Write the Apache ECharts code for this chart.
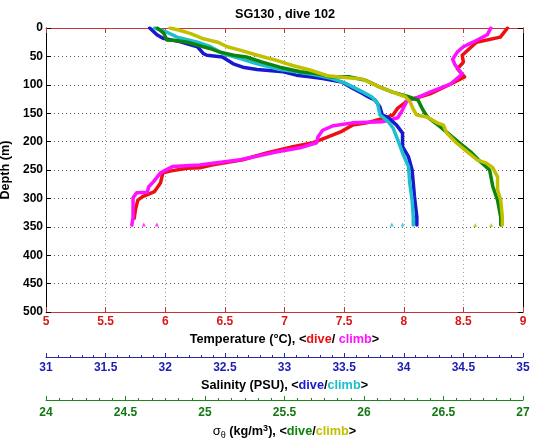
<!DOCTYPE html>
<html><head><meta charset="utf-8">
<script src="https://cdn.jsdelivr.net/npm/echarts@6/dist/echarts.min.js"></script>
<style>html,body{margin:0;padding:0;background:#fff}#c{width:535px;height:442px}</style>
</head><body><div id="c"></div>
<script>
// ---- data (depth in m, values on each x scale) ----
const tempDiveDepth = [0,16,25,48,60,72,86,99,116,121,127,141,153,157,167,171,183,192,202,209,220,232,241,246,247,252,255,273,288,297,303,320,335];
const tempDive      = [8.87,8.81,8.61,8.49,8.50,8.45,8.51,8.39,8.22,8.14,8.04,7.95,7.91,7.86,7.69,7.57,7.47,7.36,7.24,7.07,6.85,6.65,6.40,6.29,6.18,6.04,5.98,5.96,5.91,5.81,5.77,5.75,5.74];
const tempClimbDepth = [0,12,25,33,42,55,65,81,99,113,123,127,144,158,165,167,172,180,192,202,211,218,232,238,241,244,255,271,280,289,290,299,333,347];
const tempClimb      = [8.73,8.70,8.58,8.50,8.45,8.41,8.43,8.49,8.39,8.22,8.11,8.03,7.99,7.95,7.82,7.57,7.41,7.32,7.28,7.27,7.13,6.94,6.63,6.40,6.29,6.06,5.96,5.90,5.86,5.85,5.76,5.73,5.73,5.72];
const tempClimbStrayDepth = [346,346];
const tempClimbStray      = [5.82,5.93];

const salDiveDepth = [0,12,18,24,33,45,48,51,63,69,73,77,83,86,89,95,106,115,121,127,139,153,158,171,185,209,227,250,273,297,333,347];
const salDive      = [31.87,31.93,31.98,32.12,32.27,32.32,32.35,32.48,32.57,32.65,32.77,32.99,33.10,33.21,33.32,33.48,33.57,33.65,33.70,33.76,33.80,33.82,33.87,33.94,33.99,33.99,34.04,34.07,34.08,34.09,34.11,34.11];
const salClimbDepth = [0,7,16,25,33,45,54,63,72,77,83,89,97,112,121,132,153,165,176,197,220,244,273,303,333,347];
const salClimb      = [31.91,32.01,32.10,32.27,32.38,32.48,32.63,32.77,32.94,33.10,33.27,33.40,33.51,33.65,33.73,33.78,33.80,33.87,33.91,33.95,33.99,34.04,34.05,34.07,34.08,34.08];
const salClimbStrayDepth = [346,346];
const salClimbStray      = [33.90,33.99];

const sigDiveDepth = [0,9,21,22,25,30,36,42,48,51,60,69,77,80,86,86,92,104,113,121,127,144,157,174,188,202,218,235,250,279,303,333,347];
const sigDive      = [24.70,24.74,24.76,24.82,24.89,24.95,25.03,25.09,25.18,25.26,25.36,25.47,25.60,25.70,25.79,25.91,26.01,26.10,26.18,26.28,26.34,26.37,26.40,26.48,26.54,26.60,26.67,26.73,26.79,26.81,26.84,26.86,26.86];
const sigClimbDepth = [0,4,10,19,25,33,39,48,57,66,74,84,87,90,104,113,121,130,143,153,157,167,171,185,202,218,232,238,246,262,285,303,333,347];
const sigClimb      = [24.78,24.84,24.91,24.99,25.08,25.14,25.22,25.33,25.45,25.55,25.66,25.77,25.88,25.99,26.10,26.18,26.26,26.29,26.31,26.33,26.40,26.46,26.50,26.52,26.58,26.65,26.71,26.77,26.81,26.84,26.84,26.86,26.87,26.87];
const sigClimbStrayDepth = [347,347];
const sigClimbStray      = [26.70,26.80];

const depthTicks = [0,50,100,150,200,250,300,350,400,450,500];
const tempTicks = [5,5.5,6,6.5,7,7.5,8,8.5,9];
const salTicks = [31,31.5,32,32.5,33,33.5,34,34.5,35];
const sigTicks = [24,24.5,25,25.5,26,26.5,27];

const titleText = 'SG130 , dive 102';

// ---- chart ----
const FONT = '"Liberation Sans", Arial, Helvetica, sans-serif';
const C = {
  red:'#ee1010', mag:'#ff10ff', blue:'#1818d0', cyan:'#1cc0cc', green:'#0c840c', yel:'#c0c000',
  redAx:'#c83434', redLab:'#d81818', blueAx:'#2a2aa0', blueLab:'#1c1cb0', greenAx:'#1c861c', greenLab:'#127812'
};
const NS = 12.7;
const pairs = (v,d) => v.map((x,i)=>[x,d[i]]);
const lbl = (color, margin) => ({color, fontWeight:'bold', fontSize:12, fontFamily:FONT, margin});
const base = {fontWeight:'bold', fontSize:NS, fontFamily:FONT, color:'#000', lineHeight:16};

const chart = echarts.init(document.getElementById('c'), null, {renderer:'canvas'});
const line = (v,d,xi,color) => ({type:'line', xAxisIndex:xi, yAxisIndex:0, data:pairs(v,d), showSymbol:false,
  symbol:'none', lineStyle:{color, width:3.5, join:'round', cap:'round'}, silent:true, animation:false, z:3});
const stray = (v,d,xi,color) => ({type:'scatter', xAxisIndex:xi, yAxisIndex:0, data:pairs(v,d), symbol:'triangle',
  symbolSize:4, itemStyle:{color}, silent:true, animation:false, z:3});

chart.setOption({
  animation:false,
  backgroundColor:'#fff',
  grid:{left:46, right:12, top:28, bottom:130, containLabel:false, outerBoundsMode:'none'},
  graphic:[{type:'text', x:285, y:14, style:{text:titleText, align:'center', verticalAlign:'middle',
    fontSize:NS, fontWeight:'bold', fontFamily:FONT, fill:'#000'}}],
  xAxis:[
    {type:'value', position:'bottom', min:tempTicks[0], max:tempTicks[tempTicks.length-1], interval:0.5,
     axisLine:{onZero:false, lineStyle:{color:C.redAx, width:1}},
     axisTick:{inside:true, length:5, lineStyle:{color:C.redAx}},
     axisLabel:lbl(C.redLab, 4),
     splitLine:{show:true, lineStyle:{color:'#b89a9a', type:[1,3], width:1}},
     name:'{b|Temperature (°C), <}{r|dive}{b|/ }{m|climb}{b|>}', nameLocation:'middle', nameGap:15,
     nameTextStyle:{rich:{b:base, r:{...base,color:C.red}, m:{...base,color:C.mag}}}},
    {type:'value', position:'bottom', offset:45, min:salTicks[0], max:salTicks[salTicks.length-1], interval:0.5,
     axisLine:{onZero:false, lineStyle:{color:C.blueAx, width:1}},
     axisTick:{inside:true, length:4, lineStyle:{color:C.blueAx}},
     minorTick:{show:true, splitNumber:5, length:2, lineStyle:{color:C.blueAx}},
     axisLabel:lbl(C.blueLab, 5), splitLine:{show:false},
     name:'{b|Salinity (PSU), <}{d|dive}{b|/}{c|climb}{b|>}', nameLocation:'middle', nameGap:18,
     nameTextStyle:{rich:{b:base, d:{...base,color:C.blue}, c:{...base,color:C.cyan}}}},
    {type:'value', position:'bottom', offset:88, min:sigTicks[0], max:sigTicks[sigTicks.length-1], interval:0.5,
     axisLine:{onZero:false, lineStyle:{color:C.greenAx, width:1}},
     axisTick:{inside:true, length:4, lineStyle:{color:C.greenAx}},
     minorTick:{show:true, splitNumber:6, length:2, lineStyle:{color:C.greenAx}},
     axisLabel:lbl(C.greenLab, 7), splitLine:{show:false},
     name:'{s|σ}{sub|θ}{b| (kg/m}{sup|3}{b|), <}{g|dive}{b|/}{y|climb}{b|>}', nameLocation:'middle', nameGap:19,
     nameTextStyle:{rich:{b:base, s:{...base, fontWeight:'normal', fontSize:13},
       sub:{...base, fontWeight:'normal', fontSize:9, lineHeight:8, verticalAlign:'bottom'},
       sup:{...base, fontSize:9, lineHeight:8, verticalAlign:'top'},
       g:{...base,color:C.green}, y:{...base,color:C.yel}}}},
    {type:'value', position:'top', min:tempTicks[0], max:tempTicks[tempTicks.length-1], interval:0.5,
     axisLine:{onZero:false, lineStyle:{color:C.redAx, width:1}},
     axisTick:{inside:true, length:5, lineStyle:{color:C.redAx}},
     axisLabel:{show:false}, splitLine:{show:false}}
  ],
  yAxis:[
    {type:'value', position:'left', inverse:true, min:depthTicks[0], max:depthTicks[depthTicks.length-1], interval:50,
     axisLine:{onZero:false, lineStyle:{color:'#000', width:1}},
     axisTick:{inside:true, length:5, lineStyle:{color:'#000'}},
     axisLabel:{color:'#000', fontWeight:'bold', fontSize:12, fontFamily:FONT, margin:3},
     splitLine:{show:true, lineStyle:{color:'#5a5a5a', type:[1,3], width:1}},
     name:'Depth (m)', nameLocation:'middle', nameGap:30, nameRotate:90,
     nameTextStyle:{fontWeight:'bold', fontSize:NS, fontFamily:FONT, color:'#000'}},
    {type:'value', position:'right', inverse:true, min:depthTicks[0], max:depthTicks[depthTicks.length-1], interval:50,
     axisLine:{onZero:false, lineStyle:{color:'#000', width:1}},
     axisTick:{inside:true, length:5, lineStyle:{color:'#000'}},
     axisLabel:{show:false}, splitLine:{show:false}}
  ],
  series:[
    line(tempDive, tempDiveDepth, 0, C.red),
    line(tempClimb, tempClimbDepth, 0, C.mag),
    stray(tempClimbStray, tempClimbStrayDepth, 0, C.mag),
    line(salDive, salDiveDepth, 1, C.blue),
    line(salClimb, salClimbDepth, 1, C.cyan),
    stray(salClimbStray, salClimbStrayDepth, 1, C.cyan),
    line(sigDive, sigDiveDepth, 2, C.green),
    line(sigClimb, sigClimbDepth, 2, C.yel),
    stray(sigClimbStray, sigClimbStrayDepth, 2, C.yel)
  ]
});
</script></body></html>
